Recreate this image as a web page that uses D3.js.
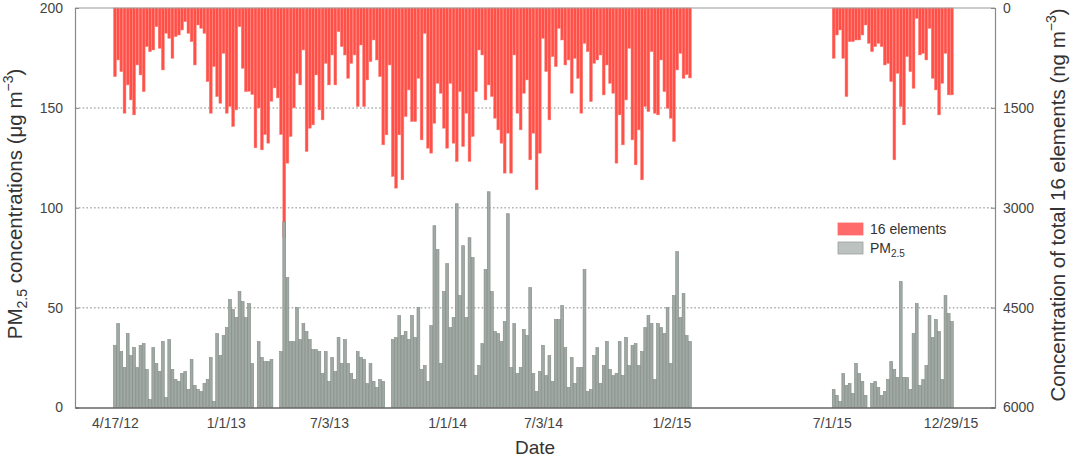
<!DOCTYPE html>
<html lang="en">
<head>
<meta charset="UTF-8" />
<title>PM2.5 and 16 elements</title>
<script src="https://d3js.org/d3.v7.min.js"></script>
<style>
  body { margin: 0; background: #fff; }
  text { font-family: Arial, "Liberation Sans", sans-serif; }
</style>
</head>
<body>
<svg width="1078" height="460"></svg>
<script>
// samples are drawn by sample number (slot), not by calendar date
const slotCount = 288;

const firstSlot1 = 12;
const pm25Part1 = [
  31, 42, 28, 20, 37, 26, 30, 20, 31, 32,
  19, 4, 30, 22, 18, 33, 5, 34, 19, 14,
  13, 17, 18, 9, 24, 11, 9, 8, 12, 14,
  25, 3, 37, 26, 36, 40, 54, 49, 45, 58,
  53, 45, 52, 22, null, 33, 25, 23, 23, 24,
  null, null, 28, 93, 65, 33, 33, 50, 34, 42,
  38, 34, 29, 29, 28, 17, 28, 13, 25, 18,
  35, 22, 34, 22, 17, 14, 28, 25, 24, 12,
  22, 13, 10, 14, 13, null, null, 34, 35, 46,
  36, 38, 34, 46, 35, 50, 19, 21, 13, 41,
  91, 79, 22, 58, 72, 40, 45, 102, 56, 81,
  45, 85, 75, 16, 21, 32, 69, 108, 58, 38,
  37, 33, 43, 97, 20, 42, 17, 20, 39, 36,
  60, 17, 8, 18, 31, 16, 26, 13, 44, 44,
  51, 30, 10, 25, 12, 20, 20, 69, 8, 9,
  26, 30, 12, 21, 33, 19, 16, 17, 33, 16,
  35, 21, 31, 32, 21, 28, 40, 46, 42, 14,
  42, 40, 37, 50, 22, 56, 78, 45, 57, 36,
  33
];
const elementsPart1 = [
  1030, 780, 955, 1580, 1155, 1380, 1605, 855, 1005, 1255,
  580, 655, 630, 280, 605, 930, 380, 455, 755, 430,
  405, 330, 205, 380, 505, 855, 255, 305, 380, 1105,
  1580, 880, 1330, 1430, 680, 1580, 1480, 1780, 1530, 280,
  905, 1255, 1250, 1300, 2100, 1500, 2130, 1900, 2030, 1400,
  1200, 1350, 1900, 3450, 2330, 1930, 1500, 980, 1155, 630,
  2155, 1805, 1755, 1005, 1530, 1680, 830, 1155, 705, 1155,
  355, 580, 705, 1055, 830, 705, 1480, 555, 1480, 1080,
  805, 480, 780, 1030, 2055, 1905, 855, 2530, 2705, 1905,
  2580, 1630, 1230, 1705, 1705, 1055, 1980, 380, 2105, 2180,
  1730, 1130, 1280, 1805, 2105, 1130, 2030, 2305, 1255, 2080,
  1580, 2305, 1930, 1255, 630, 705, 1380, 1155, 1330, 1655,
  1830, 2030, 2480, 1880, 2480, 705, 1580, 1830, 1280, 1080,
  2280, 1880, 2730, 2180, 455, 955, 1680, 730, 880, 305,
  480, 855, 780, 1280, 755, 1055, 1580, 530, 655, 1405,
  830, 780, 705, 1305, 855, 1130, 1280, 2330, 1605, 2055,
  1380, 605, 1980, 2355, 1830, 2580, 1480, 1555, 655, 1580,
  1605, 780, 1255, 1505, 1655, 2005, 930, 680, 1055, 1000,
  1050
];

const firstSlot2 = 237;
const pm25Part2 = [
  9, 6, 3, 17, 11, 12, 7, 22, 17, 13,
  6, null, 12, 13, 10, 6, 8, 14, 23, 19,
  15, 63, 15, 15, 9, 37, 52, 11, 14, 21,
  46, 35, 44, 38, 14, 56, 47, 43
];
const elementsPart2 = [
  755, 405, 330, 755, 1330, 505, 505, 480, 480, 405,
  255, 530, 655, 580, 530, 580, 855, 830, 1105, 2280,
  980, 1480, 1755, 730, 955, 1205, 155, 705, 680, 780,
  305, 1055, 1230, 1605, 1130, 680, 1305, 1305
];

const tickSlots = [12, 46.7, 79, 116, 146, 186.2, 236.4, 273.6];
const tickLabels = ["4/17/12", "1/1/13", "7/3/13", "1/1/14", "7/3/14", "1/2/15", "7/1/15", "12/29/15"];

const leftTicks = [0, 50, 100, 150, 200];
const rightTicks = [0, 1500, 3000, 4500, 6000];

// flatten the two sampling periods into slot records
function toRecords(start, pm, el) {
  return pm.map((v, i) => ({ slot: start + i, pm: v, el: el[i] }));
}
const records = toRecords(firstSlot1, pm25Part1, elementsPart1)
  .concat(toRecords(firstSlot2, pm25Part2, elementsPart2));

const svg = d3.select("svg");
const plotLeft = 75, plotRight = 995, plotTop = 8, plotBottom = 407.5;

const x = d3.scaleLinear().domain([0, slotCount]).range([plotLeft, plotRight]);
const yL = d3.scaleLinear().domain([0, 200]).range([plotBottom, plotTop]);
const yR = d3.scaleLinear().domain([0, 6000]).range([plotTop, plotBottom]);
const slotW = x(1) - x(0);
const barW = slotW * 0.88;

// dotted grid lines
svg.append("g")
  .selectAll("line")
  .data([50, 100, 150])
  .join("line")
  .attr("x1", plotLeft).attr("x2", plotRight)
  .attr("y1", d => yL(d)).attr("y2", d => yL(d))
  .attr("stroke", "#aeb0b0")
  .attr("stroke-width", 1.5)
  .attr("stroke-dasharray", "1.6,2.2");

// red bars hanging from the top (right axis)
svg.append("g")
  .selectAll("rect")
  .data(records.filter(d => d.el != null))
  .join("rect")
  .attr("x", d => x(d.slot) + (slotW - barW) / 2)
  .attr("y", plotTop)
  .attr("width", barW)
  .attr("height", d => yR(d.el) - plotTop)
  .attr("fill", "#ff4f47")
  .attr("stroke", "#ff7a72")
  .attr("stroke-width", 0.5);

// grey PM2.5 bars from the bottom (left axis)
svg.append("g")
  .selectAll("rect")
  .data(records.filter(d => d.pm != null))
  .join("rect")
  .attr("x", d => x(d.slot) + (slotW - barW) / 2)
  .attr("y", d => yL(d.pm))
  .attr("width", barW)
  .attr("height", d => plotBottom - yL(d.pm))
  .attr("fill", "#a1a9a5")
  .attr("stroke", "#7f8883")
  .attr("stroke-width", 0.6);

// frame
svg.append("line").attr("x1", plotLeft).attr("x2", plotRight).attr("y1", plotTop).attr("y2", plotTop)
  .attr("stroke", "#999").attr("stroke-width", 1);

// left axis
const gL = svg.append("g").attr("transform", `translate(${plotLeft},0)`);
gL.call(d3.axisLeft(yL).tickValues(d3.range(0, 201, 10).filter(v => v % 50)).tickSize(-2.5).tickFormat(""));
gL.call(d3.axisLeft(yL).tickValues(leftTicks).tickSize(-4).tickPadding(12));
gL.selectAll(".domain").attr("stroke", "#888").attr("stroke-width", 1.2);
gL.selectAll(".tick line").attr("stroke", "#888");
gL.selectAll("text").attr("font-size", 14).attr("fill", "#444")
  .attr("font-family", "Arial, 'Liberation Sans', sans-serif");

// right axis
const gR = svg.append("g").attr("transform", `translate(${plotRight},0)`);
gR.call(d3.axisRight(yR).tickValues(d3.range(0, 6001, 300).filter(v => v % 1500)).tickSize(-2.5).tickFormat(""));
gR.call(d3.axisRight(yR).tickValues(rightTicks).tickSize(-4).tickPadding(8).tickFormat(d3.format("d")));
gR.selectAll(".domain").attr("stroke", "#888").attr("stroke-width", 1.2);
gR.selectAll(".tick line").attr("stroke", "#888");
gR.selectAll("text").attr("font-size", 14).attr("fill", "#444")
  .attr("font-family", "Arial, 'Liberation Sans', sans-serif");

// bottom axis
const gB = svg.append("g").attr("transform", `translate(0,${plotBottom})`);
gB.call(d3.axisBottom(x).tickValues(tickSlots.map(s => s + 0.5))
  .tickFormat((d, i) => tickLabels[i]).tickSize(0).tickPadding(11));
gB.select(".domain").attr("stroke", "#666").attr("stroke-width", 1.6);
gB.selectAll("text").attr("font-size", 14).attr("fill", "#444")
  .attr("font-family", "Arial, 'Liberation Sans', sans-serif");

// axis titles
const tL = svg.append("text")
  .attr("transform", "translate(22,204) rotate(-90)")
  .attr("text-anchor", "middle").attr("font-size", 20.5).attr("fill", "#333");
tL.append("tspan").text("PM");
tL.append("tspan").attr("font-size", 14).attr("dy", 5).text("2.5");
tL.append("tspan").attr("dy", -5).text(" concentrations (μg m");
tL.append("tspan").attr("font-size", 14).attr("dy", -9).text("−3");
tL.append("tspan").attr("dy", 9).text(")");

const tR = svg.append("text")
  .attr("transform", "translate(1065,205) rotate(-90)")
  .attr("text-anchor", "middle").attr("font-size", 20.5).attr("fill", "#333");
tR.append("tspan").text("Concentration of total 16 elements (ng m");
tR.append("tspan").attr("font-size", 14).attr("dy", -9).text("−3");
tR.append("tspan").attr("dy", 9).text(")");

svg.append("text").attr("x", 535).attr("y", 454)
  .attr("text-anchor", "middle").attr("font-size", 19).attr("fill", "#333").text("Date");

// legend
const legend = svg.append("g").attr("transform", "translate(838,223)");
const legendItems = [
  { label: "16 elements", fill: "#ff6b6b", stroke: "#ff6b6b" },
  { label: "PM", sub: "2.5", fill: "#bcc2bf", stroke: "#9aa19d" }
];
legendItems.forEach((d, i) => {
  const g = legend.append("g").attr("transform", `translate(0,${i * 19})`);
  g.append("rect").attr("width", 25).attr("height", 12)
    .attr("fill", d.fill).attr("stroke", d.stroke).attr("stroke-width", 0.8);
  const t = g.append("text").attr("x", 32).attr("y", 11).attr("font-size", 14).attr("fill", "#333");
  t.append("tspan").text(d.label);
  if (d.sub) t.append("tspan").attr("font-size", 10).attr("dy", 4).text(d.sub);
});
</script>
</body>
</html>
